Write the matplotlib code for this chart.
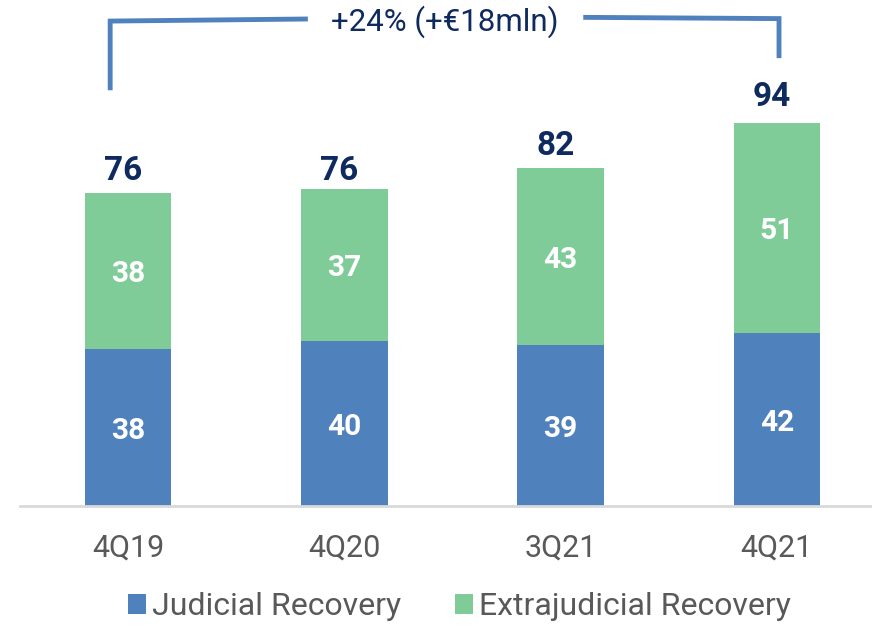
import matplotlib.pyplot as plt
import numpy as np

plt.rcParams['font.family'] = ['Roboto', 'DejaVu Sans']

quarters = ["4Q19", "4Q20", "3Q21", "4Q21"]
judicial = [38, 40, 39, 42]
extrajudicial = [38, 37, 43, 51]
totals = [76, 76, 82, 94]
bracket_text = "+24% (+€18mln)"

blue = "#4F81BD"
green = "#80CC99"
navy = "#0E2A5E"
grey = "#595959"

fig = plt.figure(figsize=(8.72, 6.28), dpi=100)
ax = fig.add_axes([20 / 872, 122 / 628, 1 - 20 / 872, 506 / 628])

x = np.arange(len(quarters))
w = 0.4
ax.bar(x, judicial, w, color=blue, label="Judicial Recovery", zorder=2)
ax.bar(x, extrajudicial, w, bottom=judicial, color=green,
       label="Extrajudicial Recovery", zorder=2)

for i in range(len(quarters)):
    ax.text(x[i], judicial[i] / 2 - 0.8, str(judicial[i]), ha="center", va="center",
            color="white", fontsize=21.5, fontweight="bold")
    ax.text(x[i], judicial[i] + extrajudicial[i] / 2 - 0.8, str(extrajudicial[i]),
            ha="center", va="center", color="white", fontsize=21.5, fontweight="bold")
    ax.text(x[i] - 0.025, totals[i] + 1.5, str(totals[i]), ha="center", va="bottom",
            color=navy, fontsize=24, fontweight="bold")

# bracket from first to last quarter
ax.plot([-0.083, -0.083, 0.82], [101.5, 117.7, 118.2], color=blue, lw=3.5,
        solid_joinstyle="miter", clip_on=False)
ax.plot([2.116, 3.01, 3.01], [118.6, 118.3, 109.3], color=blue, lw=3.5,
        solid_joinstyle="miter", clip_on=False)
ax.text(1.465, 117.6, bracket_text, ha="center", va="center", color=navy,
        fontsize=22.5)

ax.set_xlim(-0.5, 3.44)
ax.set_ylim(0, 506 / 4.12)
ax.set_xticks(x)
ax.set_xticklabels(quarters, fontsize=22, color=grey)
ax.tick_params(axis="x", length=0, pad=20)
ax.set_yticks([])
for s in ["top", "right", "left"]:
    ax.spines[s].set_visible(False)
ax.spines["bottom"].set_color("#D9D9D9")
ax.spines["bottom"].set_linewidth(2)

fig.legend(loc="lower center", bbox_to_anchor=(0.527, -0.035), ncol=2,
           frameon=False, fontsize=23, handlelength=0.55, handleheight=0.55,
           handletextpad=0.2, columnspacing=1.7, labelcolor=grey)

fig.savefig("out.png", dpi=100)
